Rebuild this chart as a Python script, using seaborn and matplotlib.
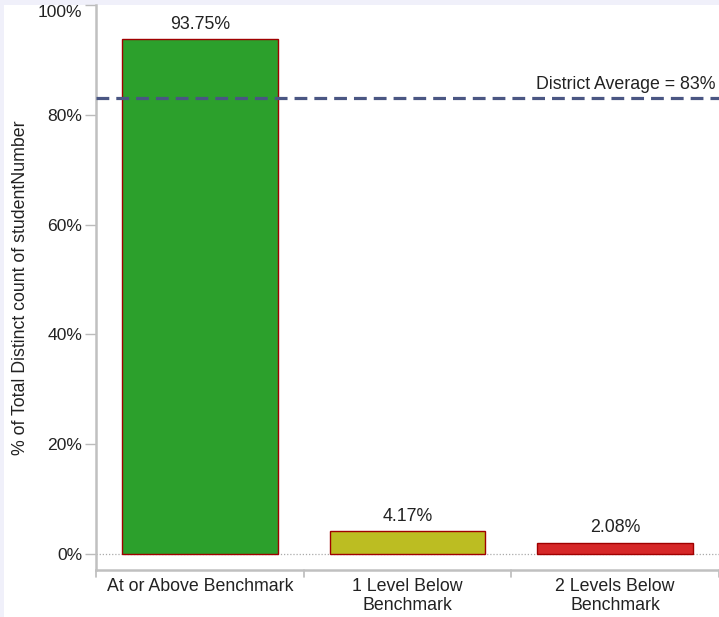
import matplotlib
matplotlib.use("Agg")
import matplotlib.pyplot as plt
import matplotlib.transforms as mtransforms
import seaborn as sns
import pandas as pd
from matplotlib.patches import Rectangle

# Benchmark categories and their share of students
categories = ["At or Above Benchmark", "1 Level Below\nBenchmark", "2 Levels Below\nBenchmark"]
percentages = [93.75, 4.17, 2.08]
bar_colors = ["#2ca02c", "#bcbd22", "#d62728"]
district_average = 83
ytick_values = [0, 20, 40, 60, 80, 100]

sns.set_theme(style="white")
plt.rcParams["font.family"] = ["Liberation Sans", "DejaVu Sans"]

df = pd.DataFrame({"category": categories, "pct": percentages})

fig = plt.figure(figsize=(7.19, 6.17), dpi=100)
fig.patch.set_facecolor("#f0f0fa")
# white panel inside the thin lavender frame
fig.patches.append(Rectangle((4 / 719, 0), 1, (617 - 5) / 617,
                             transform=fig.transFigure, facecolor="white",
                             edgecolor="none", zorder=-10))

ax = fig.add_axes([96 / 719, (617 - 570) / 617, (719 - 96) / 719, (570 - 5) / 617])
ax.set_facecolor("white")

sns.barplot(data=df, x="category", y="pct", hue="category", palette=bar_colors,
            saturation=1, width=0.75, edgecolor="#a00000", linewidth=1.0,
            legend=False, ax=ax, zorder=3)

ax.set_xlim(-0.5, 2.5)
ax.set_ylim(-2.91, 99.9)

TXT = "#222222"

# zero baseline
ax.axhline(0, color="#aaaaaa", linestyle=(0, (1, 1.5)), linewidth=0.9, zorder=2)

# district average reference line
ax.axhline(district_average, color="#4a5683", linestyle=(0, (4, 2.2)),
           linewidth=2.3, zorder=4, clip_on=False)
ax.text(2.485, district_average + 0.9, f"District Average = {district_average}%",
        ha="right", va="bottom", fontsize=12.8, color=TXT, zorder=5)

# value labels above the bars
for i, v in enumerate(percentages):
    ax.text(i, v + 1.2, f"{v:.2f}%", ha="center", va="bottom",
            fontsize=12.8, color=TXT, zorder=5)

ax.set_yticks(ytick_values)
ax.set_yticklabels([f"{v}%" for v in ytick_values], fontsize=12.6, color=TXT)
top_label = ax.get_yticklabels()[-1]
top_label.set_va("top")
top_label.set_transform(top_label.get_transform() +
                        mtransforms.ScaledTranslation(0, -3 / 72, fig.dpi_scale_trans))
ax.tick_params(axis="y", length=8, width=1, color="#bbbbbb", left=True, pad=2)

ax.set_xticks([0, 1, 2])
ax.set_xticklabels(categories, fontsize=12.8, color=TXT, linespacing=1.1)
ax.tick_params(axis="x", length=0, pad=6)
# category separators on the bottom axis
for xb in [-0.5, 0.5, 1.5, 2.5]:
    ax.plot([xb, xb], [0, -0.012], transform=ax.get_xaxis_transform(),
            color="#bbbbbb", linewidth=1.2, clip_on=False)

ax.set_xlabel("")
ax.set_ylabel("% of Total Distinct count of studentNumber", fontsize=12.8, color=TXT)
ax.yaxis.set_label_coords(-0.107, 0.5)

for side in ["top", "right"]:
    ax.spines[side].set_visible(False)
for side in ["left", "bottom"]:
    ax.spines[side].set_color("#c0c0c0")
    ax.spines[side].set_linewidth(1.8)

fig.savefig("out.png", dpi=100, facecolor=fig.get_facecolor())
